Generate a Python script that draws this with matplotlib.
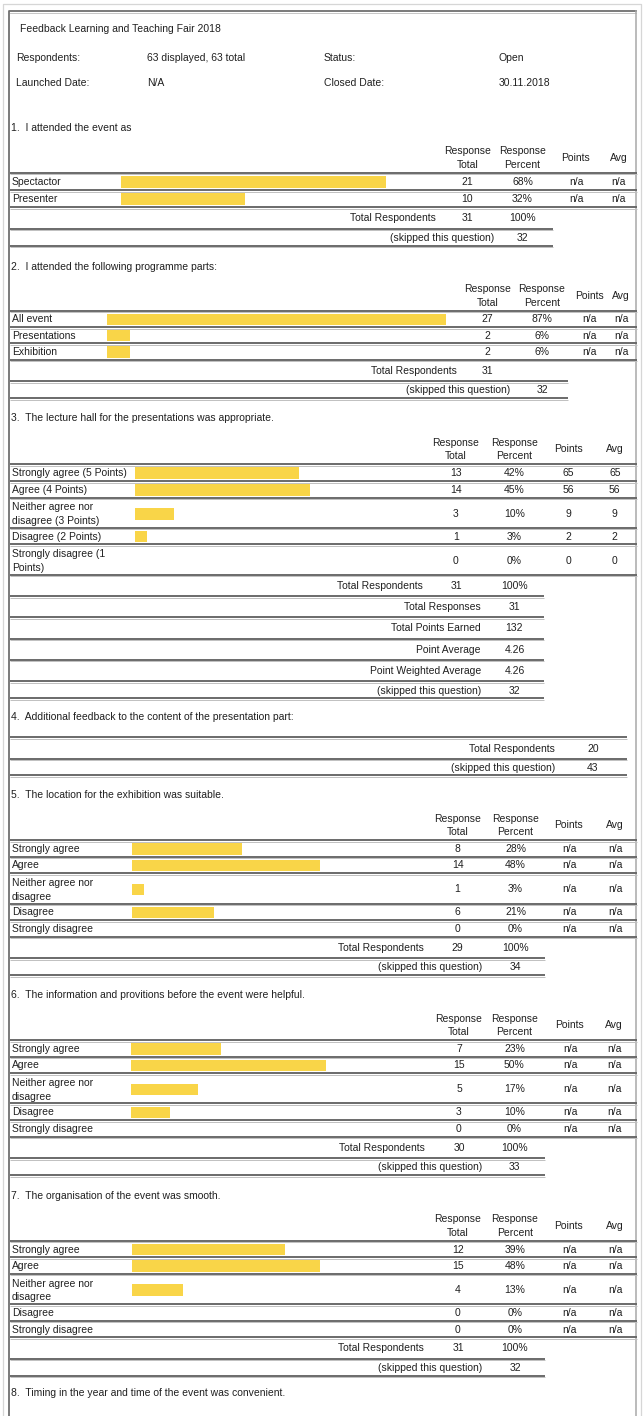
import matplotlib
matplotlib.use("Agg")
import matplotlib.pyplot as plt

# ---------------- data ----------------
report_title = "Feedback Learning and Teaching Fair 2018"
info_left = [("Respondents:", "63 displayed, 63 total"), ("Launched Date:", "N/A")]
info_right = [("Status:", "Open"), ("Closed Date:", "30.11.2018")]

agree_labels = ["Strongly agree", "Agree", "Neither agree nor\ndisagree", "Disagree", "Strongly disagree"]

q1_title = "I attended the event as"
q1_labels = ["Spectactor", "Presenter"]
q1_totals = [21, 10]
q1_pcts = [68, 32]
q1_points = ["n/a", "n/a"]
q1_avg = ["n/a", "n/a"]
q1_respondents, q1_skipped = 31, 32

q2_title = "I attended the following programme parts:"
q2_labels = ["All event", "Presentations", "Exhibition"]
q2_totals = [27, 2, 2]
q2_pcts = [87, 6, 6]
q2_points = ["n/a", "n/a", "n/a"]
q2_avg = ["n/a", "n/a", "n/a"]
q2_respondents, q2_skipped = 31, 32

q3_title = "The lecture hall for the presentations was appropriate."
q3_labels = ["Strongly agree (5 Points)", "Agree (4 Points)", "Neither agree nor\ndisagree (3 Points)",
             "Disagree (2 Points)", "Strongly disagree (1\nPoints)"]
q3_totals = [13, 14, 3, 1, 0]
q3_pcts = [42, 45, 10, 3, 0]
q3_points = ["65", "56", "9", "2", "0"]
q3_avg = ["65", "56", "9", "2", "0"]
q3_respondents, q3_skipped = 31, 32
q3_extra_labels = ["Total Responses", "Total Points Earned", "Point Average", "Point Weighted Average"]
q3_extra_values = ["31", "132", "4.26", "4.26"]

q4_title = "Additional feedback to the content of the presentation part:"
q4_respondents, q4_skipped = 20, 43

q5_title = "The location for the exhibition was suitable."
q5_totals = [8, 14, 1, 6, 0]
q5_pcts = [28, 48, 3, 21, 0]
q5_respondents, q5_skipped = 29, 34

q6_title = "The information and provitions before the event were helpful."
q6_totals = [7, 15, 5, 3, 0]
q6_pcts = [23, 50, 17, 10, 0]
q6_respondents, q6_skipped = 30, 33

q7_title = "The organisation of the event was smooth."
q7_totals = [12, 15, 4, 0, 0]
q7_pcts = [39, 48, 13, 0, 0]
q7_respondents, q7_skipped = 31, 32

q8_title = "Timing in the year and time of the event was convenient."

na5 = ["n/a"] * 5

# ---------------- style ----------------
FONT = "Liberation Sans"
FS = 7.5
TXT = "#202020"
BAR = "#F9D548"
BAR_SCALE = 3.9  # pixels per percent

fig = plt.figure(figsize=(6.44, 14.16), dpi=100)
ax = fig.add_axes([0, 0, 1, 1])
ax.set_xlim(0, 644)
ax.set_ylim(1416, 0)
ax.axis("off")


def t(x, y, s, ha="left"):
    ax.text(x, y, s, ha=ha, va="center", fontsize=FS, color=TXT, family=FONT)


def sep(y, x0=10, x1=637):
    ax.plot([x0, x1], [y, y], color="#6a6a6a", lw=1.4, solid_capstyle="butt")
    ax.plot([x0, x1], [y + 1.6, y + 1.6], color="#c0c0c0", lw=0.7, solid_capstyle="butt")


# frame
ax.plot([3.5, 3.5, 641.5, 641.5], [1416, 3.5, 3.5, 1416], color="#d6d6d6", lw=0.9)
ax.plot([9.5, 9.5, 636.5], [1416, 11, 11], color="#6f6f6f", lw=1.3)
ax.plot([10, 636.5], [12.6, 12.6], color="#c6c6c6", lw=0.7)
ax.plot([636.5, 636.5], [11, 1416], color="#a8a8a8", lw=1.1)

# header info
t(19.8, 29, report_title)
for i, ((l1, v1), (l2, v2)) in enumerate(zip(info_left, info_right)):
    yy = 58.3 + 25 * i
    t(16.5, yy, l1)
    t(147, yy, v1)
    t(324, yy, l2)
    t(499, yy, v2)


def question(num, title, title_y, labels, totals, pcts, points, avgs, cols, bar_x0,
             respondents, skipped, sum_end, tr_right, sk_right, resp_pct="100%",
             extra_labels=(), extra_values=(), row_h=16.6, head_gap=45, bar_h=11.5):
    t(11.5, title_y, f"{num}.  {title}")
    hl = title_y + head_gap
    rt, rp, pt, av = cols
    t(rt, hl - 21.5, "Response", "center")
    t(rt, hl - 8, "Total", "center")
    t(rp, hl - 21.5, "Response", "center")
    t(rp, hl - 8, "Percent", "center")
    t(pt, hl - 15, "Points", "center")
    t(av, hl - 15, "Avg", "center")
    sep(hl)
    y = hl
    for lab, tot, pc, p, a in zip(labels, totals, pcts, points, avgs):
        lines = lab.split("\n")
        if len(lines) == 2:
            h, c = 30.3, y + 16.3
            t(12, y + 9.8, lines[0])
            t(12, y + 23.5, lines[1])
        else:
            h, c = row_h, y + row_h * 0.535
            t(12, c, lab)
        if pc > 0:
            ax.barh(c, pc * BAR_SCALE, left=bar_x0, height=bar_h, color=BAR, edgecolor="none")
        t(rt, c, str(tot), "center")
        t(rp, c, f"{pc}%", "center")
        t(pt, c, p, "center")
        t(av, c, a, "center")
        y += h
        sep(y)
    t(tr_right, y + 11, "Total Respondents", "right")
    t(rt, y + 11, str(respondents), "center")
    if resp_pct:
        t(rp, y + 11, resp_pct, "center")
    y += 21.3
    sep(y, 10, sum_end)
    for lab, val in zip(extra_labels, extra_values):
        t(sk_right, y + 11, lab, "right")
        t(rp, y + 11, val, "center")
        y += 21.3
        sep(y, 10, sum_end)
    t(sk_right, y + 9.5, "(skipped this question)", "right")
    t(rp, y + 9.5, str(skipped), "center")
    y += 17
    sep(y, 10, sum_end)


question(1, q1_title, 128.3, q1_labels, q1_totals, q1_pcts, q1_points, q1_avg,
         (467.5, 522.5, 576, 618.5), 120.6, q1_respondents, q1_skipped,
         sum_end=553.5, tr_right=436, sk_right=494, head_gap=44.5, row_h=17.2, bar_h=12)

question(2, q2_title, 266.7, q2_labels, q2_totals, q2_pcts, q2_points, q2_avg,
         (487.7, 542, 589.7, 621), 106.6, q2_respondents, q2_skipped,
         sum_end=568, tr_right=456.8, sk_right=510, resp_pct=None, head_gap=44, row_h=16.3)

question(3, q3_title, 417.7, q3_labels, q3_totals, q3_pcts, q3_points, q3_avg,
         (456, 514.4, 568.3, 614.8), 135, q3_respondents, q3_skipped,
         sum_end=544, tr_right=422.6, sk_right=481,
         extra_labels=q3_extra_labels, extra_values=q3_extra_values, head_gap=46.6)

# question 4 (text question)
t(11.5, 717.3, f"4.  {q4_title}")
sep(737.3, 10, 627.5)
t(555, 749, "Total Respondents", "right")
t(593, 749, str(q4_respondents), "center")
sep(758.7, 10, 627.5)
t(555, 768, "(skipped this question)", "right")
t(593, 768, str(q4_skipped), "center")
sep(775.3, 10, 627.5)

question(5, q5_title, 795, agree_labels, q5_totals, q5_pcts, na5, na5,
         (457.6, 515.6, 569, 615), 132.5, q5_respondents, q5_skipped,
         sum_end=545, tr_right=424, sk_right=482.3)

question(6, q6_title, 995, agree_labels, q6_totals, q6_pcts, na5, na5,
         (459, 514.4, 570, 614), 131.3, q6_respondents, q6_skipped,
         sum_end=545, tr_right=424.7, sk_right=482.7)

question(7, q7_title, 1195.7, agree_labels, q7_totals, q7_pcts, na5, na5,
         (458, 515, 569, 615), 132.5, q7_respondents, q7_skipped,
         sum_end=545, tr_right=424, sk_right=482.3)

t(11.5, 1392.7, f"8.  {q8_title}")

fig.savefig("out.png", dpi=100)
